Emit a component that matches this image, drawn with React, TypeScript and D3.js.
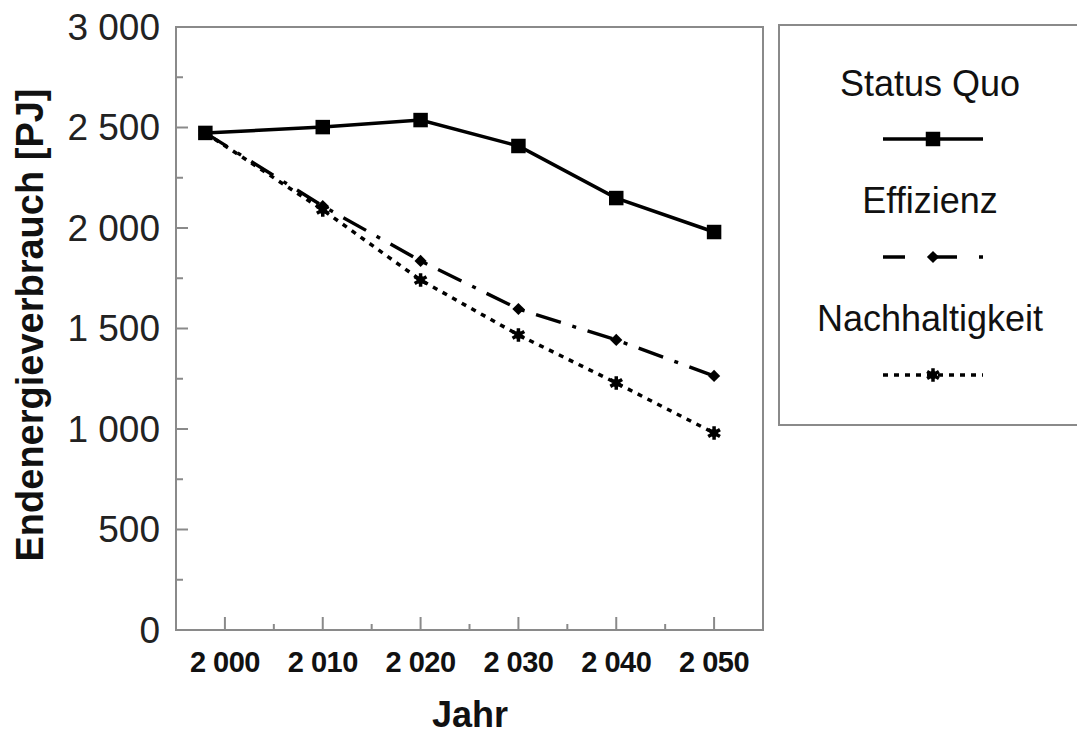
import React from "react";
import * as d3 from "d3";

const years = [1998, 2010, 2020, 2030, 2040, 2050];
const xTickYears = [2000, 2010, 2020, 2030, 2040, 2050];
const xTickLabels = ["2 000", "2 010", "2 020", "2 030", "2 040", "2 050"];
const yTicks = [0, 500, 1000, 1500, 2000, 2500, 3000];
const yTickLabels = ["0", "500", "1 000", "1 500", "2 000", "2 500", "3 000"];
const statusQuo = [2473, 2502, 2537, 2408, 2149, 1980];
const effizienz = [2473, 2109, 1836, 1597, 1443, 1264];
const nachhaltigkeit = [2473, 2090, 1741, 1468, 1229, 980];
const seriesNames = ["Status Quo", "Effizienz", "Nachhaltigkeit"];

const W = 1077, H = 733;
const PL = 176, PR = 763, PT = 27, PB = 630;
const FONT = "'Liberation Sans', Arial, Helvetica, sans-serif";

export default function App() {
  const x = d3.scaleLinear().domain([1995, 2055]).range([PL, PR]);
  const y = d3.scaleLinear().domain([0, 3000]).range([PB, PT]);
  const line = d3.line<number>().x((_, i) => x(years[i])).y((v) => y(v));

  const sq = d3.symbol().type(d3.symbolSquare).size(210)()!;
  const dia = d3.symbol().type(d3.symbolDiamond2).size(95)()!;
  const ast = d3.symbol().type(d3.symbolAsterisk).size(130)()!;

  const minorY = d3.range(250, 3000, 500);
  const minorX = d3.range(2005, 2055, 10);

  const series = [
    { name: seriesNames[0], values: statusQuo, dash: "none", width: 3.5 },
    { name: seriesNames[1], values: effizienz, dash: "26 12 4 12", width: 3.4 },
    { name: seriesNames[2], values: nachhaltigkeit, dash: "5 6", width: 3.5 },
  ];

  const marker = (k: number, cx: number, cy: number, key: string) => {
    if (k === 0) return <path key={key} d={sq} transform={`translate(${cx},${cy})`} fill="#000" />;
    if (k === 1) return <path key={key} d={dia} transform={`translate(${cx},${cy})`} fill="#000" />;
    return (
      <g key={key} transform={`translate(${cx},${cy})`}>
        <path d={ast} fill="none" stroke="#000" strokeWidth={3.5} />
        <circle r={4} fill="#000" />
      </g>
    );
  };

  const legendY = [83, 200, 318];
  const sampleY = [139, 257, 375];
  const lx = 933;

  return (
    <svg width={W} height={H} style={{ position: "absolute", left: 0, top: 0, background: "#fff" }} fontFamily={FONT}>
      <rect x={0} y={0} width={W} height={H} fill="#fff" />
      {/* plot frame */}
      <rect x={PL} y={PT} width={PR - PL} height={PB - PT} fill="none" stroke="#8a8a8a" strokeWidth={2} />
      {/* y ticks */}
      {yTicks.map((t, i) => (
        <g key={"yt" + i}>
          {t > 0 && t < 3000 && <line x1={PL} x2={PL + 12} y1={y(t)} y2={y(t)} stroke="#8a8a8a" strokeWidth={2} />}
          <text x={160} y={y(t)} textAnchor="end" dominantBaseline="central" fontSize={37} fill="#222">
            {yTickLabels[i]}
          </text>
        </g>
      ))}
      {minorY.map((t) => (
        <line key={"ym" + t} x1={PL} x2={PL + 7} y1={y(t)} y2={y(t)} stroke="#8a8a8a" strokeWidth={2} />
      ))}
      {/* x ticks */}
      {xTickYears.map((t, i) => (
        <g key={"xt" + i}>
          <line x1={x(t)} x2={x(t)} y1={PB} y2={PB - 13} stroke="#8a8a8a" strokeWidth={2} />
          <text x={x(t)} y={662} textAnchor="middle" dominantBaseline="central" fontSize={29} fontWeight="bold" fill="#111" letterSpacing={-0.5}>
            {xTickLabels[i]}
          </text>
        </g>
      ))}
      {minorX.map((t) => (
        <line key={"xm" + t} x1={x(t)} x2={x(t)} y1={PB} y2={PB - 6} stroke="#8a8a8a" strokeWidth={2} />
      ))}
      {/* axis titles */}
      <text x={470} y={714} textAnchor="middle" dominantBaseline="central" fontSize={36} fontWeight="bold" fill="#111">
        Jahr
      </text>
      <text
        transform={`translate(30,325) rotate(-90)`}
        textAnchor="middle"
        dominantBaseline="central"
        fontSize={38}
        fontWeight="bold"
        fill="#111"
      >
        Endenergieverbrauch [PJ]
      </text>
      {/* series */}
      {series.map((s, k) => (
        <g key={"s" + k}>
          <path d={line(s.values)!} fill="none" stroke="#000" strokeWidth={s.width} strokeDasharray={s.dash} />
          {s.values.map((v, i) => marker(k, x(years[i]), y(v), `m${k}-${i}`))}
        </g>
      ))}
      {/* legend */}
      <rect x={779} y={25} width={320} height={400} fill="#fff" stroke="#8a8a8a" strokeWidth={2} />
      {series.map((s, k) => (
        <g key={"l" + k}>
          <text x={lx - 3} y={legendY[k]} textAnchor="middle" dominantBaseline="central" fontSize={36} fill="#111">
            {s.name}
          </text>
          <line x1={lx - 50} x2={lx + 50} y1={sampleY[k]} y2={sampleY[k]} stroke="#000" strokeWidth={s.width}
            strokeDasharray={k === 1 ? "22 30 22 22 4 100" : s.dash} />
          {marker(k, lx, sampleY[k], "lm" + k)}
        </g>
      ))}
    </svg>
  );
}
